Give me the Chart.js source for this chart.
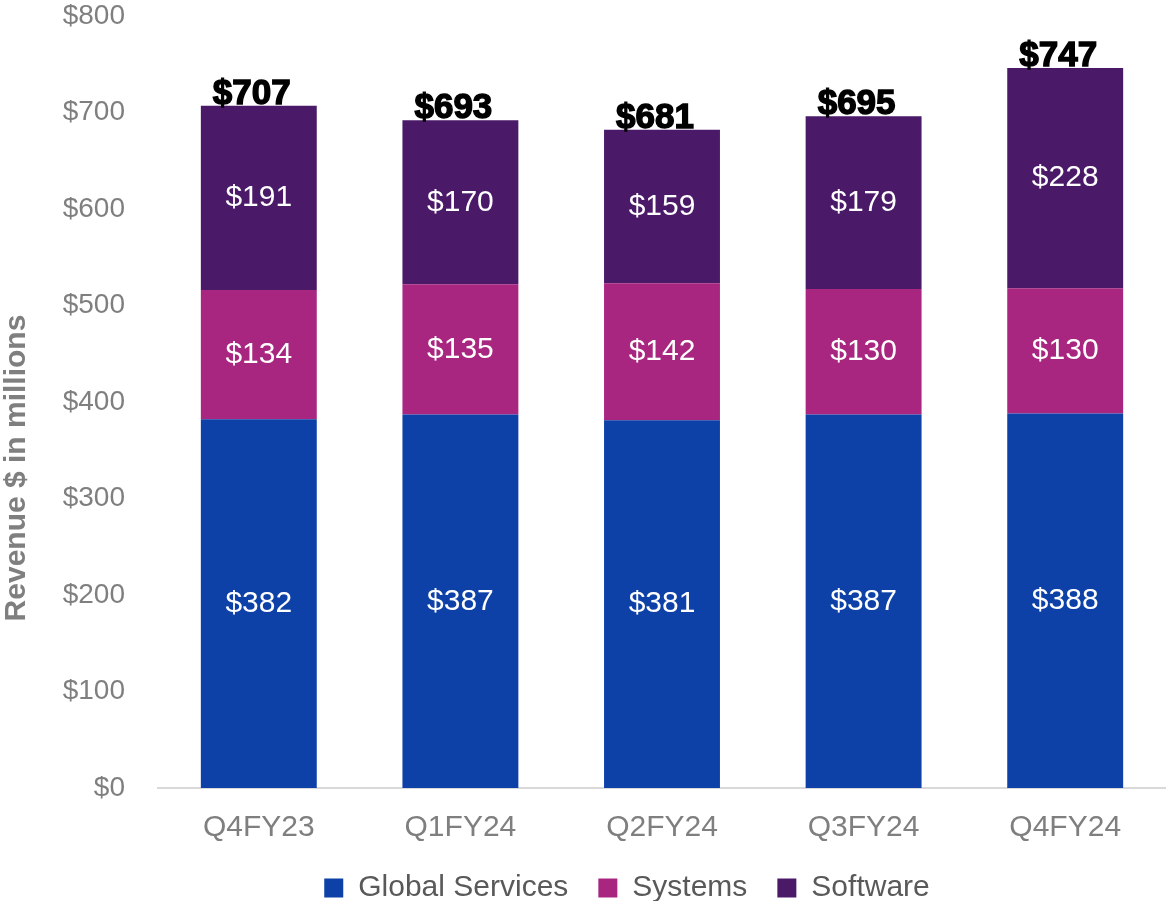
<!DOCTYPE html>
<html>
<head>
<meta charset="utf-8">
<script src="https://cdn.jsdelivr.net/npm/chart.js@4"></script>
<style>
  html, body { margin: 0; padding: 0; background: #fff; overflow: hidden; }
  #wrap { width: 1166px; height: 901px; }
</style>
</head>
<body>
<div id="wrap"><canvas id="graph" width="1166" height="901"></canvas></div>
<script>
const quarters = ["Q4FY23", "Q1FY24", "Q2FY24", "Q3FY24", "Q4FY24"];
const globalServices = [382, 387, 381, 387, 388];
const systems = [134, 135, 142, 130, 130];
const software = [191, 170, 159, 179, 228];
const totals = [707, 693, 681, 695, 747];
const axisTitle = "Revenue $ in millions";

const fontName = "'Liberation Sans', Arial, sans-serif";

// value labels inside the bars, totals on top, axis title, legend nudge
const barLabels = {
    id: "barLabels",
    afterLayout(chart) {
        const lg = chart.legend;
        lg.top -= 3;
        lg.bottom -= 3;
        lg.left += 44;
        lg.right += 44;
    },
    afterDatasetsDraw(chart) {
        const ctx = chart.ctx;
        ctx.save();
        ctx.textAlign = "center";
        chart.data.datasets.forEach((ds, i) => {
            const meta = chart.getDatasetMeta(i);
            meta.data.forEach((bar, j) => {
                ctx.fillStyle = "#ffffff";
                ctx.font = "30px " + fontName;
                ctx.textBaseline = "middle";
                const mid = (bar.y + bar.base) / 2;
                ctx.fillText("$" + ds.data[j], bar.x, mid);
            });
        });
        const top = chart.getDatasetMeta(chart.data.datasets.length - 1);
        top.data.forEach((bar, j) => {
            ctx.fillStyle = "#000000";
            ctx.strokeStyle = "#000000";
            ctx.lineWidth = 1.4;
            ctx.font = "bold 35px " + fontName;
            ctx.textBaseline = "alphabetic";
            ctx.fillText("$" + totals[j], bar.x - 7, bar.y - 2);
            ctx.strokeText("$" + totals[j], bar.x - 7, bar.y - 2);
        });
        // y axis title
        ctx.translate(17, 468);
        ctx.rotate(-Math.PI / 2);
        ctx.fillStyle = "#7f7f7f";
        ctx.font = "bold 30px " + fontName;
        ctx.textBaseline = "middle";
        ctx.fillText(axisTitle, 0, 0);
        ctx.restore();
    }
};

const ctx = document.getElementById("graph").getContext("2d");

let myChart = new Chart(ctx, {
    type: "bar",
    data: {
        labels: quarters,
        datasets: [
            { label: "Global Services", data: globalServices, backgroundColor: "#0e41a8" },
            { label: "Systems", data: systems, backgroundColor: "#a8267f" },
            { label: "Software", data: software, backgroundColor: "#4a1a68" }
        ]
    },
    options: {
        responsive: false,
        animation: false,
        layout: { padding: { top: 0, right: 0, left: 0, bottom: -15 } },
        datasets: { bar: { categoryPercentage: 1, barPercentage: 0.575 } },
        scales: {
            x: {
                stacked: true,
                grid: { display: false, drawTicks: false },
                border: { display: true, color: "#d9d9d9", width: 2 },
                ticks: {
                    color: "#7f7f7f",
                    padding: 22,
                    font: { family: fontName, size: 30 }
                },
                afterFit: s => { s.height = 58; }
            },
            y: {
                stacked: true,
                min: 0,
                max: 800,
                grid: { display: false, drawTicks: false },
                border: { display: false },
                ticks: {
                    stepSize: 100,
                    color: "#7f7f7f",
                    padding: 33,
                    font: { family: fontName, size: 28 },
                    callback: v => "$" + v
                },
                afterFit: s => {
                    s.width = 158;
                    s.paddingTop = 16;
                    s.paddingBottom = 16;
                }
            }
        },
        plugins: {
            tooltip: { enabled: false },
            legend: {
                position: "bottom",
                labels: {
                    color: "#595959",
                    boxWidth: 19,
                    boxHeight: 19,
                    padding: 30,
                    font: { family: fontName, size: 30 }
                }
            }
        }
    },
    plugins: [barLabels]
});
</script>
</body>
</html>
